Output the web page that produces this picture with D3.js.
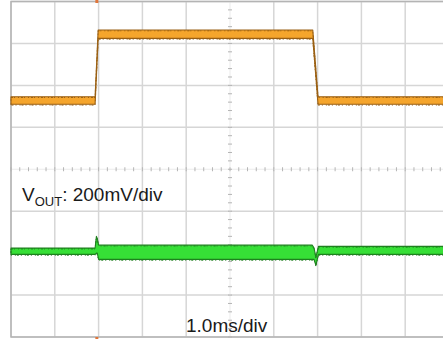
<!DOCTYPE html>
<html>
<head>
<meta charset="utf-8">
<script src="https://d3js.org/d3.v7.min.js"></script>
<style>
    body { margin: 0; background: #fff; }
    svg { display: block; }
    text { font-family: "Liberation Sans", Arial, sans-serif; fill: #1a1a1a; }
</style>
</head>
<body>
<div class="scope"></div>
<script>

// Time (ms) and vertical (divisions from centre) grid ticks
var timeTicks = [0, 1, 2, 3, 4, 5, 6, 7, 8, 9, 10];
var divTicks = [-4, -3, -2, -1, 0, 1, 2, 3, 4];
var triggerTime = 1.96;

// Upper trace (orange): envelope of the noisy band, in divisions
var orangeT  = [0, 1.92, 1.99, 6.89, 7.01, 10];
var orangeHi = [1.73, 1.73, 3.32, 3.32, 1.73, 1.73];
var orangeLo = [1.55, 1.55, 3.12, 3.12, 1.55, 1.55];

// Output voltage trace (green): envelope with the two small transients
var greenT  = [0, 1.92, 1.95, 1.97, 2.0, 6.88, 6.92, 6.96, 7.02, 10];
var greenHi = [-1.88, -1.88, -1.60, -1.65, -1.81, -1.81, -1.88, -2.10, -1.84, -1.84];
var greenLo = [-2.03, -2.03, -2.0, -2.0, -2.15, -2.15, -2.15, -2.29, -2.03, -2.03];

var width = 443, height = 339;
var plot = { left: 11, right: 449, top: 1.5, bottom: 337 };

var x = d3.scaleLinear().domain([0, 10]).range([plot.left, plot.right]);
var y = d3.scaleLinear().domain([-4, 4]).range([plot.bottom, plot.top]);

var svg = d3.select(".scope")
    .append("svg")
        .attr("width", width)
        .attr("height", height);

// Grid lines
svg.append("g")
    .selectAll("line")
    .data(timeTicks.filter(function(t) { return t != 5; }))
    .enter()
    .append("line")
    .attr("x1", function(t) { return x(t); })
    .attr("x2", function(t) { return x(t); })
    .attr("y1", plot.top)
    .attr("y2", plot.bottom)
    .style("stroke", "#d6d6d6")
    .style("stroke-width", 1.5);

svg.append("g")
    .selectAll("line")
    .data(divTicks.filter(function(v) { return v != 0; }))
    .enter()
    .append("line")
    .attr("x1", plot.left)
    .attr("x2", plot.right)
    .attr("y1", function(v) { return y(v); })
    .attr("y2", function(v) { return y(v); })
    .style("stroke", "#d6d6d6")
    .style("stroke-width", 1.5);

// Centre cross with minor ticks
svg.append("line")
    .attr("x1", x(5)).attr("x2", x(5))
    .attr("y1", plot.top).attr("y2", plot.bottom)
    .style("stroke", "#ebebeb")
    .style("stroke-width", 1);

svg.append("line")
    .attr("x1", plot.left).attr("x2", plot.right)
    .attr("y1", y(0)).attr("y2", y(0))
    .style("stroke", "#ebebeb")
    .style("stroke-width", 1);

var minorX = d3.range(0, 10.01, 0.2);
var minorY = d3.range(-4, 4.01, 0.2);

svg.append("g")
    .selectAll("line")
    .data(minorX)
    .enter()
    .append("line")
    .attr("x1", function(t) { return x(t); })
    .attr("x2", function(t) { return x(t); })
    .attr("y1", y(0) - 2)
    .attr("y2", y(0) + 2)
    .style("stroke", "#b4b4b4")
    .style("stroke-width", 1);

svg.append("g")
    .selectAll("line")
    .data(minorY)
    .enter()
    .append("line")
    .attr("x1", x(5) - 2)
    .attr("x2", x(5) + 2)
    .attr("y1", function(v) { return y(v); })
    .attr("y2", function(v) { return y(v); })
    .style("stroke", "#b4b4b4")
    .style("stroke-width", 1);

// Frame (left, top, bottom)
svg.append("path")
    .attr("d", "M" + plot.right + "," + plot.top + "H" + plot.left + "V" + plot.bottom + "H" + plot.right)
    .style("fill", "none")
    .style("stroke", "#b4b4b4")
    .style("stroke-width", 1.5);

// Traces drawn as envelope areas
var band = d3.area()
    .x(function(d) { return x(d.t); })
    .y0(function(d) { return y(d.lo); })
    .y1(function(d) { return y(d.hi); });

function rows(ts, hi, lo) {
    return ts.map(function(t, i) { return { t: t, hi: hi[i], lo: lo[i] }; });
}

function drawTrace(data, fill, edge) {
    svg.append("path")
        .datum(data)
        .attr("d", band)
        .style("fill", fill)
        .style("stroke", edge)
        .style("stroke-width", 1.1)
        .style("stroke-linejoin", "round");

    // speckled noise along the band edges
    svg.append("path")
        .datum(data)
        .attr("d", band)
        .style("fill", "none")
        .style("stroke", edge)
        .style("stroke-width", 1)
        .style("stroke-dasharray", "2,1,1,3,1,2")
        .attr("transform", "translate(0,0.8)");
}

drawTrace(rows(orangeT, orangeHi, orangeLo), "#f5a52c", "#9a6014");
drawTrace(rows(greenT, greenHi, greenLo), "#36df36", "#1f801f");

// Trigger markers
svg.selectAll(".marker")
    .data([plot.top - 1.5, plot.bottom])
    .enter()
    .append("rect")
    .attr("class", "marker")
    .attr("x", x(triggerTime) - 1.5)
    .attr("y", function(d) { return d; })
    .attr("width", 3)
    .attr("height", 3)
    .style("fill", "#e0763a");

// Labels
var vLabel = svg.append("text")
    .attr("x", 22)
    .attr("y", 201)
    .style("font-size", "19px");

vLabel.append("tspan").text("V");
vLabel.append("tspan")
    .attr("dy", 5)
    .style("font-size", "13px")
    .text("OUT");
vLabel.append("tspan")
    .attr("dy", -5)
    .text(": 200mV/div");

svg.append("text")
    .attr("x", 186)
    .attr("y", 332)
    .style("font-size", "19px")
    .text("1.0ms/div");

</script>
</body>
</html>
